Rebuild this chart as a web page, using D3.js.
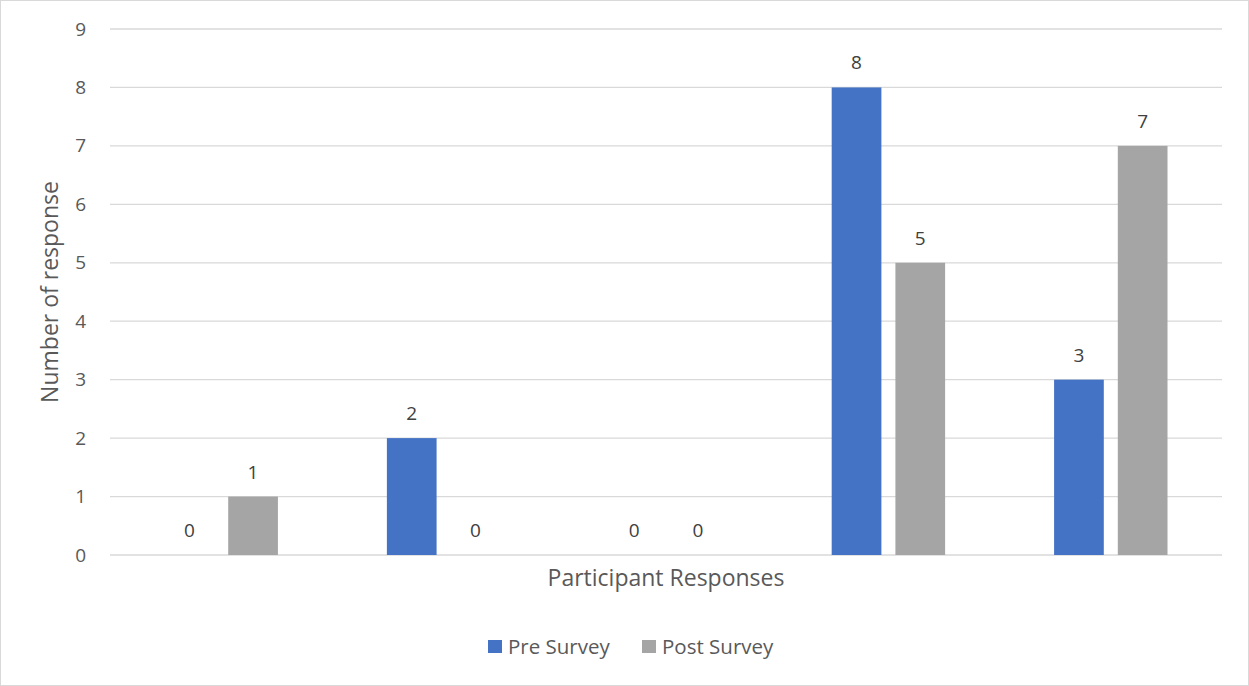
<!DOCTYPE html>
<html>
<head>
<meta charset="utf-8">
<script src="https://cdn.jsdelivr.net/npm/d3@7"></script>
<style>
  body { margin: 0; background: #fff; }
  svg { display: block; font-family: "Open Sans", "Noto Sans", sans-serif; }
</style>
</head>
<body>
<div class="chart"></div>
<script>
"use strict";
// categories have no printed labels in the original
const categories = ["1", "2", "3", "4", "5"];
const seriesNames = ["Pre Survey", "Post Survey"];
const preSurvey = [0, 2, 0, 8, 3];
const postSurvey = [1, 0, 0, 5, 7];
const yTicks = [0, 1, 2, 3, 4, 5, 6, 7, 8, 9];
const colors = ["#4472C4", "#A5A5A5"];

const width = 1249, height = 686;
const margin = {top: 29, right: 27, bottom: 131, left: 110};

const svg = d3.select(".chart").append("svg")
    .attr("width", width)
    .attr("height", height);

svg.append("rect")
    .attr("x", 0.5).attr("y", 0.5)
    .attr("width", width - 1).attr("height", height - 1)
    .attr("fill", "#fff")
    .attr("stroke", "#D9D9D9");

const x0 = d3.scaleBand()
    .domain(categories)
    .range([margin.left, width - margin.right])
    .padding(0);

const x1 = d3.scaleBand()
    .domain(seriesNames)
    .range([x0.bandwidth() * 0.245, x0.bandwidth() * 0.755])
    .paddingInner(0.22);

const y = d3.scaleLinear()
    .domain([0, 9])
    .range([height - margin.bottom, margin.top]);

// gridlines
svg.append("g")
    .selectAll("line")
    .data(yTicks)
    .join("line")
    .attr("x1", margin.left)
    .attr("x2", width - margin.right)
    .attr("y1", d => y(d))
    .attr("y2", d => y(d))
    .attr("stroke", "#D9D9D9")
    .attr("stroke-width", 1.3);

// y axis labels
const yAxis = d3.axisLeft(y).tickValues(yTicks).tickSize(0).tickPadding(0);
svg.append("g")
    .attr("transform", "translate(86,0)")
    .call(yAxis)
    .call(g => g.select(".domain").remove())
    .call(g => g.selectAll("text")
        .attr("fill", "#595959")
        .style("font-size", "19px")
        .style("font-family", "\"Open Sans\", \"Noto Sans\", sans-serif"));

const rows = categories.map((c, i) => ({
    cat: c,
    values: [
        {name: seriesNames[0], value: preSurvey[i]},
        {name: seriesNames[1], value: postSurvey[i]}
    ]
}));

const groups = svg.append("g")
    .selectAll("g")
    .data(rows)
    .join("g")
    .attr("transform", d => "translate(" + x0(d.cat) + ",0)");

groups.selectAll("rect")
    .data(d => d.values)
    .join("rect")
    .attr("x", d => x1(d.name))
    .attr("width", x1.bandwidth())
    .attr("y", d => y(d.value))
    .attr("height", d => y(0) - y(d.value))
    .attr("fill", (d, i) => colors[i]);

groups.selectAll("text")
    .data(d => d.values)
    .join("text")
    .attr("x", d => x1(d.name) + x1.bandwidth() / 2)
    .attr("y", d => y(d.value) - 18)
    .attr("text-anchor", "middle")
    .attr("fill", "#404040")
    .style("font-size", "19px")
    .text(d => d.value);

// axis titles
svg.append("text")
    .attr("x", (margin.left + width - margin.right) / 2)
    .attr("y", 586)
    .attr("text-anchor", "middle")
    .attr("fill", "#595959")
    .style("font-size", "23px")
    .text("Participant Responses");

svg.append("text")
    .attr("transform", "translate(58," + (margin.top + (height - margin.bottom - margin.top) / 2) + ") rotate(-90)")
    .attr("text-anchor", "middle")
    .attr("fill", "#595959")
    .style("font-size", "23px")
    .text("Number of response");

// legend
const legendX = [488, 642];
const legend = svg.append("g")
    .selectAll("g")
    .data(seriesNames)
    .join("g")
    .attr("transform", (d, i) => "translate(" + legendX[i] + ",640)");

legend.append("rect")
    .attr("width", 14)
    .attr("height", 13)
    .attr("fill", (d, i) => colors[i]);

legend.append("text")
    .attr("x", 20)
    .attr("y", 14)
    .attr("fill", "#595959")
    .style("font-size", "20.5px")
    .text(d => d);
</script>
</body>
</html>
